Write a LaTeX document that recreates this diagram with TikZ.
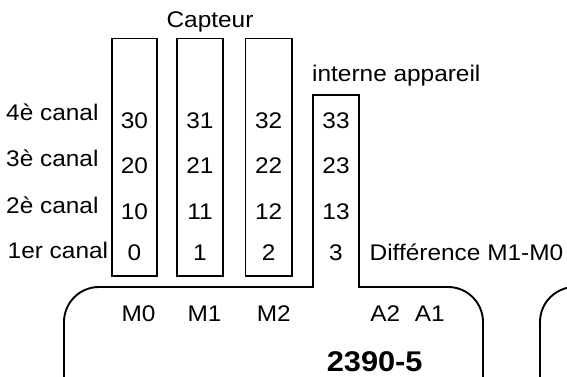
\documentclass[tikz,border=0pt]{standalone}
\usepackage{fontspec}
\setmainfont{Liberation Sans}[FakeStretch=1.08]
\begin{document}
\begin{tikzpicture}[x=1pt,y=-1pt,
  wire/.style={line width=1.9pt, line join=miter},
  lbl/.style={inner sep=0pt, font=\fontsize{22.6}{27}\selectfont},
  chan/.style={lbl, anchor=base west},
  num/.style={lbl, anchor=base},
  devname/.style={inner sep=0pt, anchor=base, font=\fontsize{28.5}{32}\selectfont\bfseries}]
\useasboundingbox (0,0) rectangle (567,377);
\clip (0,0) rectangle (567,377);

% sensor columns M0, M1, M2
\draw[wire] (112,38.5) rectangle (157,276);
\draw[wire] (177,38.5) rectangle (223,276);
\draw[wire] (245.5,38.5) rectangle (291.7,276);

% device housing with the internal channel column
\draw[wire] (64,380) -- (64,322)
  arc[start angle=180, end angle=270, radius=35]
  -- (313,287) -- (313,95) -- (359,95) -- (359,287) -- (448,287)
  arc[start angle=270, end angle=360, radius=35]
  -- (483,380);

% neighbouring device
\draw[wire] (540,380) -- (540,322)
  arc[start angle=180, end angle=270, radius=35] -- (600,287);

% headings
\node[num] (capteur) at (210,27.3) {Capteur};
\node[chan] (interne) at (312,81.7) {interne appareil};

% channel names
\node[chan] (c4) at (6,121) {4è canal};
\node[chan] (c3) at (6,166.7) {3è canal};
\node[chan] (c2) at (6,213.3) {2è canal};
\node[chan] (c1) at (7.5,258.3) {1er canal};

% channel numbers per column
\foreach \cx/\m in {134.5/0, 200/1, 268.6/2, 336/3} {
  \node[num] (n3\m) at (\cx,128.5) {3\m};
  \node[num] (n2\m) at (\cx,173.3) {2\m};
  \node[num] (n1\m) at (\cx,219) {1\m};
  \node[num] (n0\m) at (\cx,260) {\m};
}

\node[chan] (diff) at (369.5,260.7) {Différence M1-M0};

% inputs on the device
\node[num] (m0) at (138.5,321.7) {M0};
\node[num] (m1) at (204.5,321.7) {M1};
\node[num] (m2) at (273.7,321.7) {M2};
\node[num] (a2) at (385.3,321.7) {A2};
\node[num] (a1) at (429.7,321.7) {A1};

\node[devname] (dev) at (374.7,371.7) {2390-5};
\end{tikzpicture}
\end{document}
